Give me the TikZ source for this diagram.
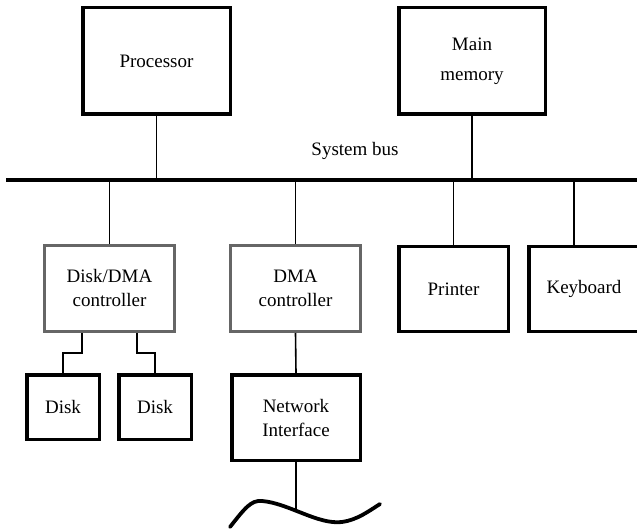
\documentclass[tikz,border=0pt]{standalone}
\usepackage{fontspec}
\setmainfont{Liberation Serif}
\begin{document}
\begin{tikzpicture}[x=1bp,y=-1bp,
  txt/.style={font=\fontsize{19bp}{24bp}\selectfont, align=center},
  hbox/.style={txt, draw=black, line width=3.5bp, rectangle, inner sep=0pt, fill=white},
  gbox/.style={txt, draw=black!60, line width=3bp, rectangle, inner sep=0pt, fill=white},
  wire/.style={draw=black, line width=1.6bp},
  busline/.style={draw=black, line width=4bp},
  net/.style={draw=black, line width=3.8bp, line cap=round}]
\useasboundingbox (0,0) rectangle (637,530);
\clip (0,0) rectangle (637,530);
% top boxes
\node[hbox, minimum width=147.5bp, minimum height=106.5bp] (proc) at (156.5,61) {Processor};
\node[hbox, minimum width=146.5bp, minimum height=106.5bp] (mem) at (472,61) {Main\\[6pt]memory};
% bus
\coordinate (busL) at (6,180);
\coordinate (busR) at (640,180);
\draw[busline] (busL) -- (busR);
\node[txt] (buslabel) at (355,151) {System bus};
% middle row
\node[gbox, minimum width=130bp, minimum height=86bp] (dd) at (109.5,288.5) {Disk/DMA\\controller};
\node[gbox, minimum width=130bp, minimum height=86bp] (dma) at (295.5,288.5) {DMA\\controller};
\node[hbox, minimum width=109.5bp, minimum height=84.5bp] (prn) at (453.5,289) {Printer};
\node[hbox, minimum width=110.5bp, minimum height=84.5bp] (kbd) at (584,289) {Keyboard};
% bottom row
\node[hbox, minimum width=72.5bp, minimum height=64.5bp] (d1) at (63,407) {Disk};
\node[hbox, minimum width=72.5bp, minimum height=64.5bp] (d2) at (155,407) {Disk};
\node[hbox, minimum width=128.5bp, minimum height=85.5bp] (ni) at (296,417.5) {Network\\Interface};
% connectors to bus
\draw[wire] (proc.south) -- (proc.south |- busL);
\draw[wire] (mem.south) -- (mem.south |- busL);
\draw[wire] (dd.north) -- (dd.north |- busL);
\draw[wire] (dma.north) -- (dma.north |- busL);
\draw[wire] (prn.north) -- (prn.north |- busL);
\draw[wire] ([xshift=-10bp]kbd.north) -- ([xshift=-10bp]kbd.north |- busL);
% disk connectors
\coordinate (e1) at (82,353);
\coordinate (e2) at (137,353);
\draw[wire] (e1 |- dd.south) -- (e1) -- (d1.north |- e1) -- (d1.north);
\draw[wire] (e2 |- dd.south) -- (e2) -- (d2.north |- e2) -- (d2.north);
% network
\draw[wire] (dma.south) -- (ni.north);
\coordinate (wv) at (296,510);
\draw[wire] (ni.south) -- (wv);
\coordinate (w0) at (230,527);
\coordinate (w1) at (262,501);
\coordinate (w2) at (342,522);
\coordinate (w3) at (380,504);
\draw[net] (w0) .. controls (245,508) and (251,500) .. (w1)
  .. controls (288,503) and (318,525) .. (w2)
  .. controls (357,520) and (369,511) .. (w3);
\end{tikzpicture}
\end{document}
